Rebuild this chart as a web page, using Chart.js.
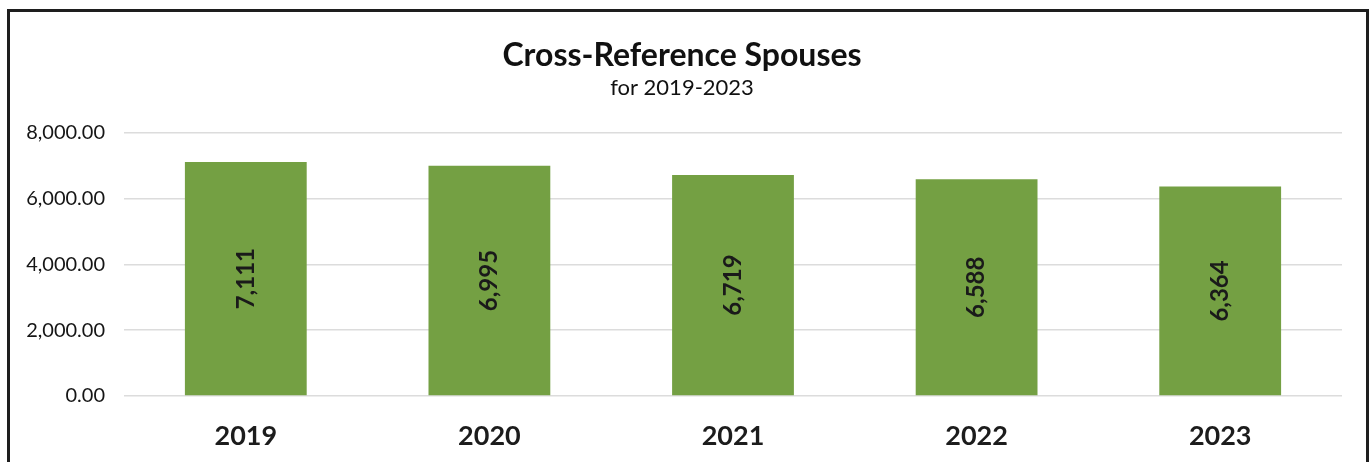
<!DOCTYPE html>
<html>
<head>
<meta charset="utf-8">
<script src="https://cdn.jsdelivr.net/npm/chart.js@4"></script>
<style>
  html, body { margin: 0; padding: 0; background: #fff; }
  #wrap { position: relative; width: 1372px; height: 462px; overflow: hidden; }
  #frame { position: absolute; left: 7px; top: 9px; width: 1356px; height: 470px; border: 3px solid #1e1e1e; }
  canvas { position: absolute; left: 0; top: 0; }
</style>
</head>
<body>
<div id="wrap">
  <div id="frame"></div>
  <canvas id="spouseChart" width="1372" height="462"></canvas>
</div>
<script>
// values
var years = ['2019', '2020', '2021', '2022', '2023'];
var spouses = [7111, 6995, 6719, 6588, 6364];
var yTicks = [0, 2000, 4000, 6000, 8000];

var fontFam = 'Lato, "Open Sans", sans-serif';

// write the count inside each bar, turned on its side
var barLabels = {
  id: 'barLabels',
  afterDatasetsDraw: function(chart) {
    var ctx = chart.ctx;
    var meta = chart.getDatasetMeta(0);
    ctx.save();
    ctx.font = 'bold 24px ' + fontFam;
    ctx.fillStyle = '#1a1a1a';
    ctx.textAlign = 'center';
    ctx.textBaseline = 'middle';
    meta.data.forEach(function(bar, i) {
      var mid = (bar.y + bar.base) / 2;
      ctx.save();
      ctx.translate(bar.x, mid);
      ctx.rotate(-Math.PI / 2);
      ctx.fillText(spouses[i].toLocaleString('en-US'), 0, 0);
      ctx.restore();
    });
    ctx.restore();
  }
};

var ctx = document.getElementById('spouseChart').getContext('2d');
var myChart = new Chart(ctx, {
  type: 'bar',
  data: {
    labels: years,
    datasets: [{
      label: 'Cross-Reference Spouses',
      data: spouses,
      backgroundColor: '#74a043',
      borderWidth: 0,
      barPercentage: 0.5,
      categoryPercentage: 1.0
    }]
  },
  options: {
    responsive: false,
    animation: false,
    layout: { padding: { left: 22, right: 30, top: 0, bottom: 0 } },
    plugins: {
      legend: { display: false },
      tooltip: { enabled: false },
      title: {
        display: true,
        text: 'Cross-Reference Spouses',
        color: '#111',
        font: { family: fontFam, size: 32, weight: 'bold' },
        padding: { top: 36, bottom: 0 }
      },
      subtitle: {
        display: true,
        text: 'for 2019-2023',
        color: '#111',
        font: { family: fontFam, size: 22 },
        padding: { top: 0, bottom: 32 }
      }
    },
    scales: {
      x: {
        grid: { display: false, drawTicks: false },
        border: { display: false },
        ticks: {
          color: '#1c1c1c',
          padding: 24,
          font: { family: fontFam, size: 27, weight: 'bold' }
        },
        afterFit: function(scale) { scale.height = 66; }
      },
      y: {
        min: 0,
        max: 8000,
        afterBuildTicks: function(scale) {
          scale.ticks = yTicks.map(function(v) { return { value: v }; });
        },
        grid: { color: '#dcdcdc', lineWidth: 1.5, drawTicks: false },
        border: { display: false },
        ticks: {
          color: '#151515',
          padding: 19,
          font: { family: fontFam, size: 20 },
          callback: function(v) {
            return Number(v).toLocaleString('en-US', { minimumFractionDigits: 2, maximumFractionDigits: 2 });
          }
        },
        afterFit: function(scale) { scale.width = 102; }
      }
    }
  },
  plugins: [barLabels]
});
</script>
</body>
</html>
